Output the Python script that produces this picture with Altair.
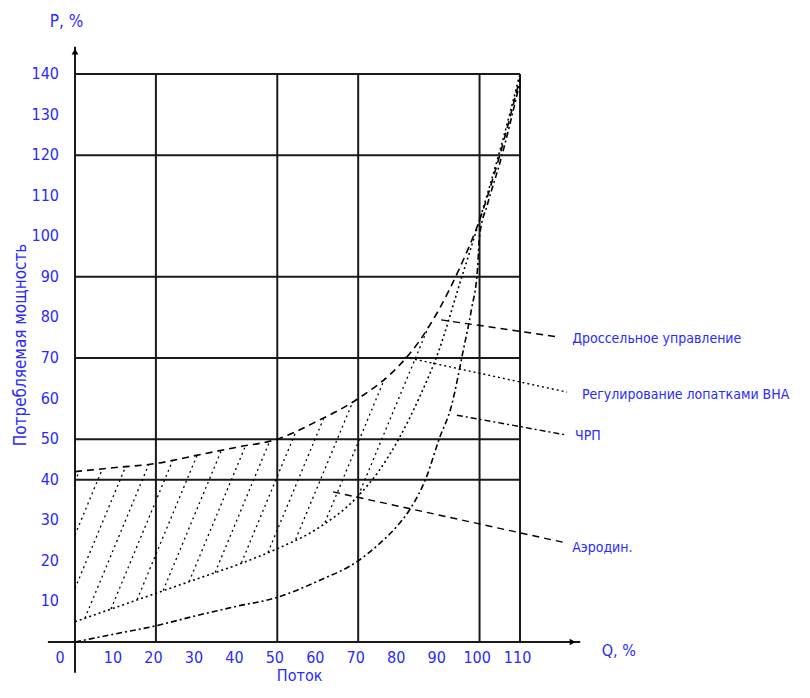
import altair as alt
import pandas as pd
import numpy as np

# ---------------- data ----------------
# Curve 1 (throttling, dashed, top)
c1_q = [0, 10, 20, 30, 40, 50, 60, 70, 80, 85, 90, 95, 100, 105, 110]
c1_p = [42, 43, 44, 46, 48, 50, 54.5, 60, 68, 74, 82, 92, 104, 120, 139]
# Curve 2 (dotted, middle)
c2_q = [0, 10, 20, 30, 40, 50, 60, 70, 75, 80, 85, 90, 95, 100, 105, 110]
c2_p = [5, 8.5, 12, 15.5, 19, 23, 28, 36, 42, 50, 60, 72, 88, 104, 121, 140]
# Curve 3 (dash-dot, lowest)
c3_q = [0, 10, 20, 30, 40, 50, 60, 70, 75, 80, 83, 87, 90, 93, 96, 98, 99.5, 100, 102, 105, 110]
c3_p = [0, 2, 4, 6.5, 8.8, 11, 15, 20, 24, 29, 33, 41, 50, 58, 72, 82, 92, 100, 108, 118, 138]

x_ticks = [10, 20, 30, 40, 50, 60, 70, 80, 90, 100, 110]
y_ticks = [10, 20, 30, 40, 50, 60, 70, 80, 90, 100, 110, 120, 130, 140]
grid_p = [40, 50, 70, 90, 120, 140]
grid_q = [20, 50, 70, 100, 110]

ann_labels = ["Дроссельное управление", "Регулирование лопатками ВНА", "ЧРП", "Аэродин."]
ann_start_q = [90.5, 81.6, 94.4, 63.8]
ann_start_p = [79.4, 70.2, 55.9, 37.0]
ann_end_q = [119.4, 121.6, 121.6, 120.6]
ann_end_p = [75.2, 61.6, 51.0, 24.6]
ann_text_q = [122.9, 125.3, 123.6, 122.9]
ann_text_p = [74.7, 60.9, 50.8, 23.2]
ann_style = ["a", "b", "c", "d"]

BLUE = "#2a2aff"
FONT = "Liberation Sans Narrow, DejaVu Sans Condensed, Liberation Sans, sans-serif"
INK = "#1a1a1a"

xs = alt.Scale(domain=[0, 110], nice=False, zero=False)
ys = alt.Scale(domain=[0, 140], nice=False, zero=False)


def X(f):
    return alt.X(f, type="quantitative", scale=xs, axis=None)


def Y(f):
    return alt.Y(f, type="quantitative", scale=ys, axis=None)


# ---------------- tables ----------------
curves = pd.concat([
    pd.DataFrame({"q": c1_q, "p": c1_p, "s": "c1", "o": range(len(c1_q))}),
    pd.DataFrame({"q": c2_q, "p": c2_p, "s": "c2", "o": range(len(c2_q))}),
    pd.DataFrame({"q": c3_q, "p": c3_p, "s": "c3", "o": range(len(c3_q))}),
])

# hatching between curve 1 and curve 2
grid_x = np.linspace(0, 110, 2201)
up = np.interp(grid_x, c1_q, c1_p)
lo = np.interp(grid_x, c2_q, c2_p)
slope = 2.4
hatch = []
for c in np.arange(-16.5, 95, 5.5):
    yl = slope * (grid_x - c)
    inside = np.where((yl > lo) & (yl < up) & (grid_x <= 88))[0]
    if len(inside) > 1:
        a, b = inside[0], inside[-1]
        hatch.append({"q": grid_x[a], "p": yl[a], "q2": grid_x[b], "p2": yl[b]})
hatch = pd.DataFrame(hatch)

hgrid = pd.DataFrame({"p": grid_p, "q": 0, "q2": 110})
vgrid = pd.DataFrame({"q": grid_q, "p": 0, "p2": 140})

axes_lines = pd.DataFrame({
    "q": [-6.7, 0], "q2": [124.9, 0], "p": [0, -7.6], "p2": [0, 146.7]
})
arrows = pd.DataFrame({"q": [123.0, 0], "p": [0, 145.5], "shape": ["triangle-right", "triangle-up"]})

leaders = pd.DataFrame({"q": ann_start_q, "p": ann_start_p, "q2": ann_end_q,
                        "p2": ann_end_p, "st": ann_style})
ann = pd.DataFrame({"q": ann_text_q, "p": ann_text_p, "t": ann_labels})

xt = pd.DataFrame({"q": [v - 0.6 for v in x_ticks], "p": 0, "t": [str(v) for v in x_ticks]})
yt = pd.DataFrame({"q": 0, "p": y_ticks, "t": [str(v) for v in y_ticks]})

titles = pd.DataFrame({
    "q": [-2.1, 130.2, 49.9],
    "p": [152.9, -2.1, -8.4],
    "t": ["P, %", "Q, %", "Поток"],
})

# ---------------- layers ----------------
l_hgrid = alt.Chart(hgrid).mark_rule(color=INK, strokeWidth=2).encode(x=X("q"), x2="q2", y=Y("p"))
l_vgrid = alt.Chart(vgrid).mark_rule(color=INK, strokeWidth=2).encode(x=X("q"), y=Y("p"), y2="p2")
l_axes = alt.Chart(axes_lines).mark_rule(color=INK, strokeWidth=2).encode(
    x=X("q"), x2="q2", y=Y("p"), y2="p2")
l_arrows = alt.Chart(arrows).mark_point(filled=True, color="black", size=45, opacity=1).encode(
    x=X("q"), y=Y("p"), shape=alt.Shape("shape:N", scale=None))

l_hatch = alt.Chart(hatch).mark_rule(color="black", strokeWidth=1.3, strokeDash=[2, 3.5]).encode(
    x=X("q"), y=Y("p"), x2="q2", y2="p2")

l_curves = alt.Chart(curves).mark_line(color="black", strokeWidth=1.6, interpolate="monotone").encode(
    x=X("q"), y=Y("p"), detail="s:N", order="o:Q",
    strokeDash=alt.StrokeDash("s:N", legend=None, scale=alt.Scale(
        domain=["c1", "c2", "c3"], range=[[7, 5], [2, 3], [6, 3, 2, 3]])),
)

l_leaders = alt.Chart(leaders).mark_rule(color="black", strokeWidth=1.4).encode(
    x=X("q"), y=Y("p"), x2="q2", y2="p2",
    strokeDash=alt.StrokeDash("st:N", legend=None, scale=alt.Scale(
        domain=["a", "b", "c", "d"], range=[[8, 7], [6, 4, 2, 4], [9, 6], [5, 5, 2, 5]])),
)

l_ann = alt.Chart(ann).mark_text(align="left", baseline="middle", color=BLUE, font=FONT, fontSize=14).encode(
    x=X("q"), y=Y("p"), text="t:N")

l_xt = alt.Chart(xt).mark_text(align="center", baseline="middle", dy=15.5, color=BLUE, font=FONT, fontSize=16).encode(
    x=X("q"), y=Y("p"), text="t:N")
l_yt = alt.Chart(yt).mark_text(align="right", baseline="middle", dx=-16, color=BLUE, font=FONT, fontSize=16).encode(
    x=X("q"), y=Y("p"), text="t:N")
l_zero = alt.Chart(pd.DataFrame({"q": [0], "p": [0], "t": ["0"]})).mark_text(
    align="center", baseline="middle", dx=-15, dy=15.5, color=BLUE, font=FONT, fontSize=16).encode(
    x=X("q"), y=Y("p"), text="t:N")

l_t1 = alt.Chart(titles.iloc[[0]]).mark_text(align="center", baseline="middle", color=BLUE, font=FONT, fontSize=17).encode(
    x=X("q"), y=Y("p"), text="t:N")
l_t2 = alt.Chart(titles.iloc[[1, 2]]).mark_text(align="left", baseline="middle", color=BLUE, font=FONT, fontSize=16).encode(
    x=X("q"), y=Y("p"), text="t:N")
l_ytitle = alt.Chart(pd.DataFrame({"q": [-13.4], "p": [73.2], "t": ["Потребляемая мощность"]})).mark_text(
    align="center", baseline="middle", angle=270, color=BLUE, font=FONT, fontSize=17).encode(
    x=X("q"), y=Y("p"), text="t:N")

chart = alt.layer(
    l_hgrid, l_vgrid, l_axes, l_hatch, l_curves, l_leaders, l_arrows,
    l_ann, l_xt, l_yt, l_zero, l_t1, l_t2, l_ytitle,
).properties(
    width=445, height=568,
    autosize=alt.AutoSizeParams(type="none"),
    padding={"left": 67, "top": 66, "right": 280, "bottom": 44},
    background="white",
).configure_view(stroke=None)

chart.save("out.html", embed_options={"renderer": "svg", "actions": False})
